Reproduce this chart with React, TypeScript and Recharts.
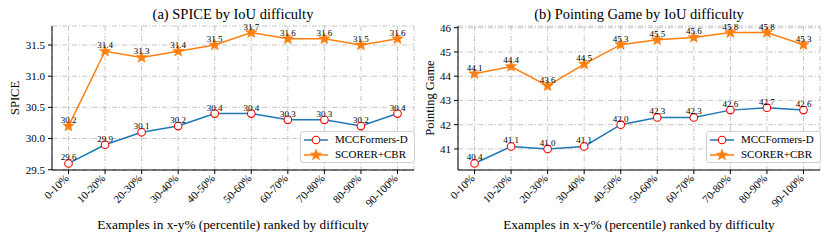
import { LineChart, Line, XAxis, YAxis, CartesianGrid } from 'recharts';

const categories = ['0-10%', '10-20%', '20-30%', '30-40%', '40-50%', '50-60%', '60-70%', '70-80%', '80-90%', '90-100%'];
const spiceMcc = [29.6, 29.9, 30.1, 30.2, 30.4, 30.4, 30.3, 30.3, 30.2, 30.4];
const spiceScorer = [30.2, 31.4, 31.3, 31.4, 31.5, 31.7, 31.6, 31.6, 31.5, 31.6];
const pgMcc = [40.4, 41.1, 41.0, 41.1, 42.0, 42.3, 42.3, 42.6, 42.7, 42.6];
const pgScorer = [44.1, 44.4, 43.6, 44.5, 45.3, 45.5, 45.6, 45.8, 45.8, 45.3];
const spiceTicks = [29.5, 30.0, 30.5, 31.0, 31.5];
const pgTicks = [41, 42, 43, 44, 45, 46];

const FONT = '"Liberation Serif", "DejaVu Serif", serif';
const BLUE = '#1f77b4';
const ORANGE = '#ff7f0e';

function starPoints(cx: number, cy: number, R: number, r: number) {
  const pts: string[] = [];
  for (let i = 0; i < 10; i++) {
    const rad = i % 2 === 0 ? R : r;
    const a = -Math.PI / 2 + (i * Math.PI) / 5;
    pts.push(`${cx + rad * Math.cos(a)},${cy + rad * Math.sin(a)}`);
  }
  return pts.join(' ');
}

const StarDot = (props: any) => {
  const { cx, cy, index } = props;
  if (cx == null || cy == null) return null;
  return <polygon key={'s' + index} points={starPoints(cx, cy, 6, 2.6)} fill={ORANGE} stroke={ORANGE} strokeWidth={0.5} />;
};

const CircleDot = (props: any) => {
  const { cx, cy, index } = props;
  if (cx == null || cy == null) return null;
  return <circle key={'c' + index} cx={cx} cy={cy} r={3.8} fill="#fff" stroke="#ff0000" strokeWidth={1.1} />;
};

const ValueLabel = (props: any) => {
  const { x, y, value } = props;
  return (
    <text x={x} y={y - 3} textAnchor="middle" fontSize={9} fontFamily={FONT} fill="#000">
      {Number(value).toFixed(1)}
    </text>
  );
};

const XTick = (props: any) => {
  const { x, y, payload } = props;
  const ax = x + 1;
  const ay = y + 3;
  return (
    <text x={ax} y={ay} transform={`rotate(-45 ${ax} ${ay})`} textAnchor="end" fontSize={11} fontFamily={FONT} fill="#000">
      {payload.value}
    </text>
  );
};

function LegendBox({ left, top }: { left: number; top: number }) {
  const row = (name: string, color: string, star: boolean) => (
    <div style={{ display: 'flex', alignItems: 'center', height: 15 }}>
      <svg width={28} height={14} style={{ marginRight: 5 }}>
        <line x1={2} y1={7} x2={26} y2={7} stroke={color} strokeWidth={1.5} />
        {star ? (
          <polygon points={starPoints(14, 7, 6, 2.6)} fill={ORANGE} stroke={ORANGE} strokeWidth={0.5} />
        ) : (
          <circle cx={14} cy={7} r={3.8} fill="#fff" stroke="#ff0000" strokeWidth={1.1} />
        )}
      </svg>
      <span>{name}</span>
    </div>
  );
  return (
    <div
      style={{
        position: 'absolute',
        left,
        top,
        border: '1px solid #d0d0d0',
        borderRadius: 3,
        background: 'rgba(255,255,255,0.85)',
        padding: '0px 6px 0px 1px',
        fontFamily: FONT,
        fontSize: 11,
        color: '#000',
        lineHeight: '15px',
      }}
    >
      {row('MCCFormers-D', BLUE, false)}
      {row('SCORER+CBR', ORANGE, true)}
    </div>
  );
}

function Panel(p: {
  title: string;
  yLabel: string;
  mcc: number[];
  scorer: number[];
  domain: [number, number];
  ticks: number[];
  fmt: (v: number) => string;
  yWidth: number;
  right: number;
  legendLeft: number;
}) {
  const data = categories.map((c, i) => ({ cat: c, mcc: p.mcc[i], scorer: p.scorer[i] }));
  const plotLeft = p.yWidth;
  const plotRight = 415 - p.right;
  return (
    <div style={{ position: 'relative', width: 415, height: 242 }}>
      <LineChart width={415} height={242} data={data} margin={{ top: 26, right: p.right, bottom: 0, left: 0 }}>
        <CartesianGrid stroke="#b8b8b8" strokeDasharray="5 2 1 2" strokeWidth={0.8} />
        <XAxis
          dataKey="cat"
          height={72}
          padding={{ left: 16.5, right: 16.5 }}
          interval={0}
          tickSize={4}
          tickMargin={2}
          tick={<XTick />}
          stroke="#000"
          tickLine={{ stroke: '#000' }}
          label={{ value: 'Examples in x-y% (percentile) ranked by difficulty', position: 'insideBottom', offset: 13, fontSize: 13.3, fontFamily: FONT, fill: '#000' }}
        />
        <XAxis xAxisId="top" dataKey="cat" orientation="top" height={0} tick={false} tickLine={false} stroke="#000" />
        <YAxis
          domain={p.domain}
          ticks={p.ticks}
          type="number"
          allowDataOverflow
          width={p.yWidth}
          tickSize={4}
          tickMargin={3}
          tickFormatter={p.fmt}
          stroke="#000"
          tick={{ fontSize: 11, fontFamily: FONT, fill: '#000' }}
          label={(lp: any) => {
            const vb = lp.viewBox;
            const cx = 14.5;
            const cy = vb.y + vb.height / 2;
            return (
              <text x={cx} y={cy} transform={`rotate(-90 ${cx} ${cy})`} textAnchor="middle" dominantBaseline="central" fontSize={12.5} fontFamily={FONT} fill="#000">
                {p.yLabel}
              </text>
            );
          }}
        />
        <YAxis yAxisId="r" orientation="right" width={0} domain={[0, 1]} tick={false} tickLine={false} stroke="#000" />
        <Line type="linear" dataKey="mcc" stroke={BLUE} strokeWidth={1.5} dot={<CircleDot />} label={<ValueLabel />} isAnimationActive={false} />
        <Line type="linear" dataKey="scorer" stroke={ORANGE} strokeWidth={1.5} dot={<StarDot />} label={<ValueLabel />} isAnimationActive={false} />
      </LineChart>
      <div
        style={{
          position: 'absolute',
          left: plotLeft,
          width: plotRight - plotLeft,
          top: 6,
          textAlign: 'center',
          fontFamily: FONT,
          fontSize: 14.5,
          lineHeight: '17px',
          color: '#000',
        }}
      >
        {p.title}
      </div>
      <LegendBox left={p.legendLeft} top={131} />
    </div>
  );
}

export default function App() {
  return (
    <div style={{ position: 'absolute', left: 0, top: 0, width: 830, height: 242, background: '#fff' }}>
      <div style={{ position: 'absolute', left: 0, top: 0 }}>
        <Panel
          title="(a) SPICE by IoU difficulty"
          yLabel="SPICE"
          mcc={spiceMcc}
          scorer={spiceScorer}
          domain={[29.495, 31.805]}
          ticks={spiceTicks}
          fmt={(v) => v.toFixed(1)}
          yWidth={52}
          right={1}
          legendLeft={300}
        />
      </div>
      <div style={{ position: 'absolute', left: 415, top: 0 }}>
        <Panel
          title="(b) Pointing Game by IoU difficulty"
          yLabel="Pointing Game"
          mcc={pgMcc}
          scorer={pgScorer}
          domain={[40.13, 46.07]}
          ticks={pgTicks}
          fmt={(v) => String(v)}
          yWidth={43}
          right={10}
          legendLeft={291}
        />
      </div>
    </div>
  );
}
